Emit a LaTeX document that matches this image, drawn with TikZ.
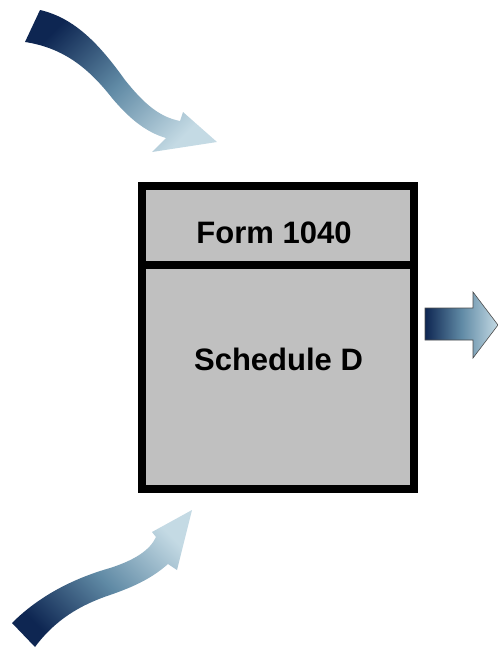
\documentclass[tikz,border=0pt]{standalone}
\usepackage{fontspec}
\setmainfont{Liberation Sans}
\usetikzlibrary{positioning}
\definecolor{navycolor}{RGB}{14,38,82}
\definecolor{midcolor}{RGB}{96,138,165}
\definecolor{palecolor}{RGB}{196,218,228}
\definecolor{formgray}{RGB}{192,192,192}

\begin{document}
\begin{tikzpicture}[
    x=1pt, y=-1pt,
    part/.style={rectangle, draw=black, fill=formgray, line width=8pt, outer sep=0pt, minimum width=272pt},
    lbl/.style={font=\fontsize{31}{36}\selectfont\bfseries, text=black, inner sep=0pt},
    swoosh/.style={top color=#1, bottom color=palecolor, middle color=midcolor},
    flow/.style={draw=gray!60!black, line width=0.6pt, left color=navycolor, right color=palecolor, middle color=midcolor}
]
\useasboundingbox (0,0) rectangle (498,648);

% ===== FORM BOX =====
\node[part, minimum height=79pt] (form) at (278,225.5) {};
\node[part, minimum height=224pt, below=0pt of form] (sched) {};
\node[lbl] (formlbl) at (274,232.5) {Form 1040};
\node[lbl] (schedlbl) at (278.5,359) {Schedule D};

% ===== INCOMING ARROWS =====
\shade[swoosh=navycolor, shading angle=45]
    (40,10) .. controls (75,18) and (100,45) .. (125,80)
    .. controls (145,105) and (160,117) .. (180,121)
    -- (183,112) -- (217,142) -- (152,152) -- (166,138)
    .. controls (145,132) and (128,117) .. (112,98)
    .. controls (90,70) and (65,48) .. (25,42) -- cycle;

\shade[top color=palecolor, bottom color=navycolor, middle color=midcolor, shading angle=-45]
    (12,623) .. controls (40,595) and (75,578) .. (110,568)
    .. controls (135,560) and (150,550) .. (156,537)
    -- (152,532) -- (192,510) -- (177,570) -- (168,564)
    .. controls (150,580) and (130,588) .. (110,595)
    .. controls (80,605) and (55,620) .. (35,647) -- cycle;

% ===== OUTGOING ARROW =====
\path[flow] (425,308) -- (473,308) -- (473,292) -- (498,325)
    -- (473,358) -- (473,340) -- (425,340) -- cycle;

\end{tikzpicture}
\end{document}
